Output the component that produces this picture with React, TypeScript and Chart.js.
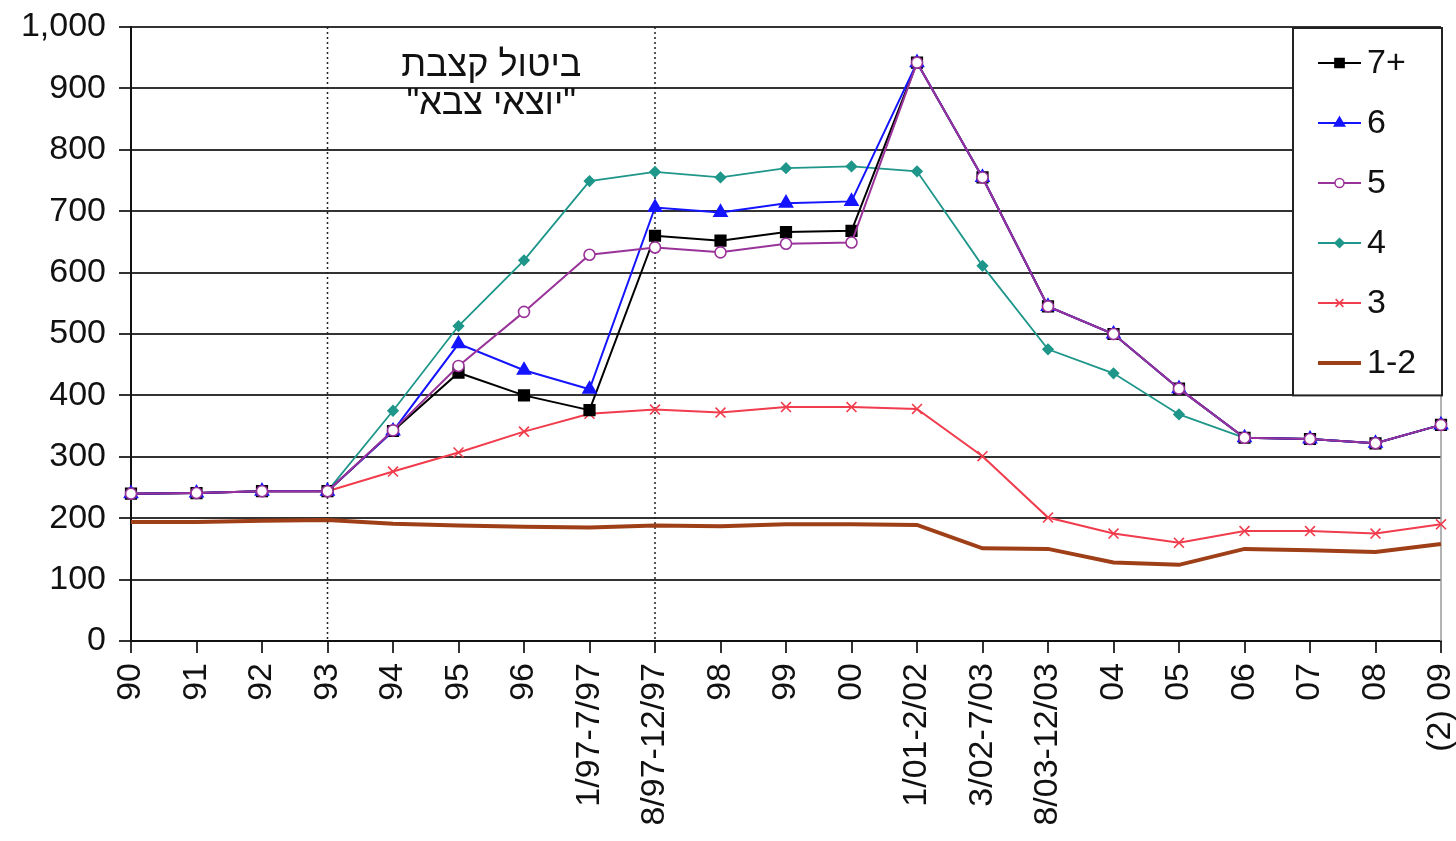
import React, { useEffect, useRef } from 'react';
import { Chart, registerables } from 'chart.js';

Chart.register(...registerables);

// ---- data ----
const categories = [
  '90', '91', '92', '93', '94', '95', '96', '1/97-7/97', '8/97-12/97', '98', '99', '00',
  '1/01-2/02', '3/02-7/03', '8/03-12/03', '04', '05', '06', '07', '08', '(2) 09',
];
const seriesLabels = ['7+', '6', '5', '4', '3', '1-2'];
const s7plus = [240, 241, 244, 244, 342, 437, 400, 376, 660, 652, 666, 668, 942, 755, 545, 500, 411, 331, 329, 322, 352];
const s6 = [240, 241, 244, 244, 342, 484, 441, 410, 706, 698, 713, 716, 942, 755, 545, 500, 411, 331, 329, 322, 352];
const s5 = [240, 241, 244, 244, 343, 448, 536, 629, 641, 633, 647, 649, 942, 755, 545, 500, 411, 331, 329, 322, 352];
const s4 = [240, 241, 244, 244, 375, 513, 620, 749, 764, 755, 770, 773, 765, 611, 475, 436, 369, 331, 329, 322, 352];
const s3 = [240, 241, 244, 244, 276, 307, 341, 370, 377, 372, 381, 381, 378, 301, 201, 175, 160, 179, 179, 175, 190];
const s12 = [194, 194, 196, 197, 191, 188, 186, 185, 188, 187, 190, 190, 189, 151, 150, 128, 124, 150, 148, 145, 158];
const yMin = 0;
const yMax = 1000;
const yStep = 100;
const noteLines = ['ביטול קצבת', '"יוצאי צבא"'];
const noteValues = [936, 874];
const dividerCategories = ['93', '8/97-12/97'];
const legendBottomValue = 400;

const FONT = '"Liberation Sans", "DejaVu Sans", Arial, sans-serif';
const NOTE_FONT = '"Liberation Sans", "DejaVu Sans", Arial, sans-serif';

type Style = 'rect' | 'triangle' | 'circle' | 'rectRot' | 'crossRot' | 'none';

const seriesStyles: { color: string; fill: string; style: Style; width: number; r: number; lr: number }[] = [
  { color: '#000000', fill: '#000000', style: 'rect', width: 2, r: 7.5, lr: 6.5 },
  { color: '#1414ff', fill: '#1414ff', style: 'triangle', width: 2, r: 7.5, lr: 6 },
  { color: '#993399', fill: '#ffffff', style: 'circle', width: 2, r: 5.5, lr: 4.5 },
  { color: '#1f968a', fill: '#1f968a', style: 'rectRot', width: 1.8, r: 5, lr: 4.5 },
  { color: '#f03c4c', fill: '#f03c4c', style: 'crossRot', width: 2, r: 7, lr: 5.5 },
  { color: '#9e3f18', fill: '#9e3f18', style: 'none', width: 4, r: 0, lr: 0 },
];
const seriesData = [s7plus, s6, s5, s4, s3, s12];
const drawOrder = [2, 1, 0, 3, 4, 5];

function drawMarker(ctx: CanvasRenderingContext2D, style: Style, x: number, y: number, r: number, fill: string, stroke: string) {
  if (style === 'none') return;
  ctx.save();
  ctx.lineWidth = 1.5;
  ctx.strokeStyle = stroke;
  ctx.fillStyle = fill;
  ctx.beginPath();
  if (style === 'rect') {
    const s = r * Math.SQRT1_2;
    ctx.rect(x - s, y - s, 2 * s, 2 * s);
    ctx.fill();
    ctx.stroke();
  } else if (style === 'triangle') {
    ctx.moveTo(x, y - r);
    ctx.lineTo(x + r * 0.866, y + r * 0.5);
    ctx.lineTo(x - r * 0.866, y + r * 0.5);
    ctx.closePath();
    ctx.fill();
    ctx.stroke();
  } else if (style === 'circle') {
    ctx.arc(x, y, r, 0, Math.PI * 2);
    ctx.fill();
    ctx.stroke();
  } else if (style === 'rectRot') {
    ctx.moveTo(x, y - r);
    ctx.lineTo(x + r, y);
    ctx.lineTo(x, y + r);
    ctx.lineTo(x - r, y);
    ctx.closePath();
    ctx.fill();
    ctx.stroke();
  } else if (style === 'crossRot') {
    const d = r * Math.SQRT1_2;
    ctx.moveTo(x - d, y - d);
    ctx.lineTo(x + d, y + d);
    ctx.moveTo(x + d, y - d);
    ctx.lineTo(x - d, y + d);
    ctx.stroke();
  }
  ctx.restore();
}

const overlayPlugin = {
  id: 'overlay',
  beforeDatasetsDraw(chart: any) {
    const { ctx, chartArea: a, scales } = chart;
    const x = scales.x;
    const y = scales.y;
    ctx.save();
    // right plot edge
    ctx.strokeStyle = '#9a9a9a';
    ctx.lineWidth = 1.5;
    ctx.beginPath();
    ctx.moveTo(a.right, a.top);
    ctx.lineTo(a.right, a.bottom);
    ctx.stroke();
    // dotted dividers
    ctx.strokeStyle = '#222';
    ctx.lineWidth = 1.5;
    ctx.setLineDash([2, 3]);
    dividerCategories.forEach((c) => {
      const px = x.getPixelForValue(categories.indexOf(c));
      ctx.beginPath();
      ctx.moveTo(px, a.top);
      ctx.lineTo(px, a.bottom);
      ctx.stroke();
    });
    ctx.setLineDash([]);
    // note
    const cx = (x.getPixelForValue(categories.indexOf(dividerCategories[0])) +
      x.getPixelForValue(categories.indexOf(dividerCategories[1]))) / 2;
    ctx.font = `36px ${NOTE_FONT}`;
    ctx.fillStyle = '#111';
    ctx.textAlign = 'center';
    ctx.textBaseline = 'middle';
    noteLines.forEach((t, i) => ctx.fillText(t, cx, y.getPixelForValue(noteValues[i])));
    ctx.restore();
  },
  afterDraw(chart: any) {
    const { ctx, chartArea: a, scales } = chart;
    const y = scales.y;
    const left = a.right - 148;
    const right = a.right + 1;
    const top = a.top + 1;
    const bottom = y.getPixelForValue(legendBottomValue);
    ctx.save();
    ctx.fillStyle = '#ffffff';
    ctx.fillRect(left, top, right - left, bottom - top);
    ctx.strokeStyle = '#222';
    ctx.lineWidth = 2;
    ctx.strokeRect(left, top, right - left, bottom - top);
    const step = 60;
    seriesLabels.forEach((lab, i) => {
      const st = seriesStyles[i];
      const cy = top + 35 + step * i;
      ctx.strokeStyle = st.color;
      ctx.lineWidth = st.style === 'none' ? 4 : 2;
      ctx.beginPath();
      ctx.moveTo(left + 25, cy);
      ctx.lineTo(left + 68, cy);
      ctx.stroke();
      drawMarker(ctx, st.style, left + 46.5, cy, st.lr, st.fill, st.color);
      ctx.fillStyle = '#111';
      ctx.font = `34px ${FONT}`;
      ctx.textAlign = 'left';
      ctx.textBaseline = 'middle';
      ctx.fillText(lab, left + 74, cy + 1);
    });
    ctx.restore();
  },
};

export default function App() {
  const ref = useRef<HTMLCanvasElement>(null);
  useEffect(() => {
    const canvas = ref.current;
    if (!canvas) return;
    const datasets = seriesLabels.map((label, i) => {
      const st = seriesStyles[i];
      return {
        label,
        data: seriesData[i],
        borderColor: st.color,
        backgroundColor: st.fill,
        borderWidth: st.width,
        pointStyle: st.style === 'none' ? 'circle' : st.style,
        pointRadius: st.r,
        pointBorderColor: st.color,
        pointBackgroundColor: st.fill,
        pointBorderWidth: 1.6,
        tension: 0,
        fill: false,
        order: drawOrder[i],
      };
    });
    const chart = new Chart(canvas, {
      type: 'line',
      data: { labels: categories, datasets: datasets as any },
      plugins: [overlayPlugin as any],
      options: {
        responsive: false,
        animation: false,
        events: [],
        layout: { padding: { left: 0, right: 15, top: 27, bottom: 0 } },
        plugins: { legend: { display: false }, tooltip: { enabled: false } },
        scales: {
          x: {
            offset: false,
            grid: { drawOnChartArea: false, drawTicks: true, tickLength: 12, color: '#333', lineWidth: 2 },
            border: { color: '#111', width: 2 },
            ticks: {
              autoSkip: false,
              maxRotation: 90,
              minRotation: 90,
              padding: 10,
              color: '#111',
              font: { family: FONT, size: 34, lineHeight: 1 },
            },
            afterFit: (s: any) => {
              s.height = 200;
              s.paddingLeft = 0;
              s.paddingRight = 0;
            },
          },
          y: {
            min: yMin,
            max: yMax,
            grid: { color: '#333333', lineWidth: 2, tickLength: 12, drawTicks: true },
            border: { color: '#111', width: 2 },
            ticks: {
              stepSize: yStep,
              padding: 13,
              color: '#111',
              font: { family: FONT, size: 34, lineHeight: 1 },
              callback: (v: any) => Number(v).toLocaleString('en-US'),
            },
            afterFit: (s: any) => {
              s.width = 131;
              s.paddingTop = 0;
              s.paddingBottom = 0;
            },
          },
        },
      },
    });
    return () => chart.destroy();
  }, []);
  return (
    <div style={{ position: 'fixed', left: 0, top: 0, width: 1456, height: 841, background: '#fff' }}>
      <canvas ref={ref} width={1456} height={841} style={{ width: 1456, height: 841, display: 'block' }} />
    </div>
  );
}
